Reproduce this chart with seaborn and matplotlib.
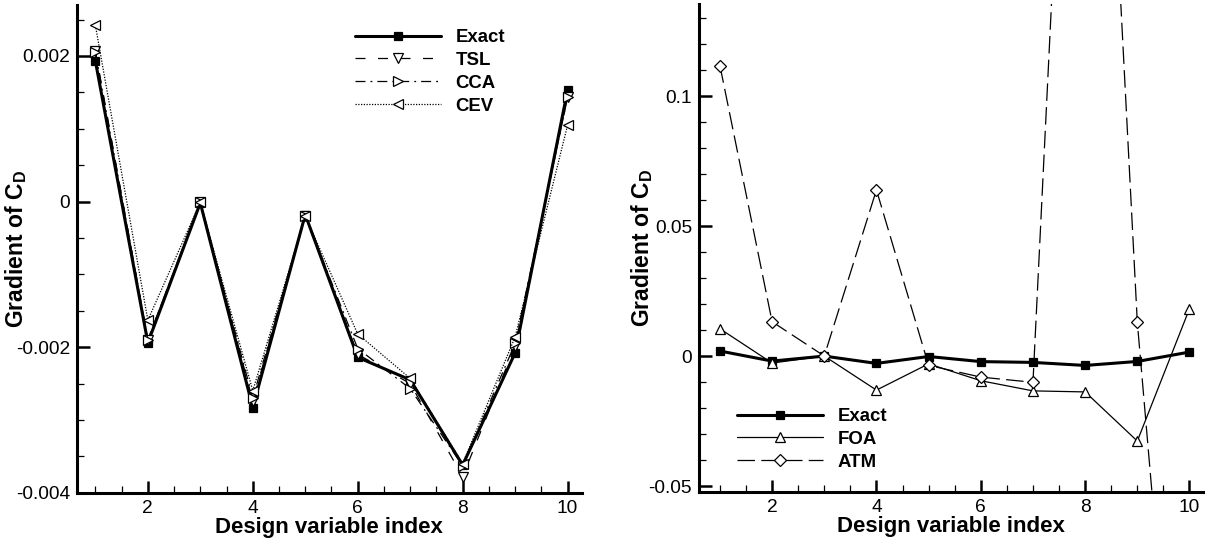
import matplotlib
matplotlib.use("Agg")
import matplotlib.pyplot as plt
from matplotlib.ticker import FixedLocator, MultipleLocator, FuncFormatter
import seaborn as sns

# Datos
design_idx = [1, 2, 3, 4, 5, 6, 7, 8, 9, 10]

exact = [0.00193, -0.00194, -0.00002, -0.00283, -0.00018, -0.00214, -0.00245, -0.00362, -0.00208, 0.00153]
tsl = [0.00207, -0.00190, -0.00001, -0.00274, -0.00020, -0.00210, -0.00250, -0.00378, -0.00198, 0.00143]
cca = [0.00205, -0.00190, -0.00001, -0.00270, -0.00020, -0.00202, -0.00257, -0.00363, -0.00195, 0.00143]
cev = [0.00242, -0.00163, -0.00001, -0.00260, -0.00020, -0.00182, -0.00243, -0.00360, -0.00186, 0.00105]

foa = [0.0105, -0.0027, 0.0000, -0.0131, -0.0030, -0.0095, -0.0134, -0.0138, -0.0327, 0.0182]
atm = [0.1117, 0.0132, 0.0000, 0.0639, -0.0036, -0.0081, -0.0101, 0.400, 0.0130, -0.220]

left_yticks = [-0.004, -0.002, 0, 0.002]
right_yticks = [-0.05, 0, 0.05, 0.1]
xticks = [2, 4, 6, 8, 10]

sns.set_theme(style="ticks")
plt.rcParams["font.family"] = ["Liberation Sans", "DejaVu Sans"]
plt.rcParams["axes.unicode_minus"] = False
plt.rcParams["mathtext.fontset"] = "custom"
plt.rcParams["mathtext.bf"] = "Liberation Sans:bold"
plt.rcParams["mathtext.rm"] = "Liberation Sans"
for k in ["text.color", "axes.labelcolor", "xtick.color", "ytick.color", "axes.edgecolor"]:
    plt.rcParams[k] = "black"

fig = plt.figure(figsize=(12.13, 5.45), dpi=100)
ax1 = fig.add_axes([0.0635, 0.096, 0.4161, 0.8948])
ax2 = fig.add_axes([0.5763, 0.0972, 0.4155, 0.8955])


def draw(ax, y, label, lw, ls, marker, ms, filled):
    sns.lineplot(x=design_idx, y=y, ax=ax, label=label, color="black",
                 linewidth=lw, linestyle=ls, marker=marker, markersize=ms,
                 markerfacecolor="black" if filled else "white",
                 markeredgecolor="black", markeredgewidth=0.9)


# Panel izquierdo
draw(ax1, exact, "Exact", 2.2, "-", "s", 6, True)
draw(ax1, tsl, "TSL", 0.9, (0, (8, 10)), "v", 7, False)
draw(ax1, cca, "CCA", 0.9, (0, (8, 4, 1.5, 4)), ">", 7, False)
draw(ax1, cev, "CEV", 0.9, (0, (1, 1.2)), "<", 7, False)

# Panel derecho
draw(ax2, exact, "Exact", 2.2, "-", "s", 6, True)
draw(ax2, foa, "FOA", 0.9, "-", "^", 7, False)
draw(ax2, atm, "ATM", 0.9, (0, (14, 5)), "D", 6, False)

ax1.set_xlim(0.65, 10.27)
ax1.set_ylim(-0.004, 0.0027)
ax2.set_xlim(0.6, 10.26)
ax2.set_ylim(-0.0523, 0.1354)

for ax, yt, ymin, labx in [(ax1, left_yticks, 0.0005, -0.095), (ax2, right_yticks, 0.01, -0.088)]:
    ax.xaxis.set_major_locator(FixedLocator(xticks))
    ax.xaxis.set_minor_locator(MultipleLocator(0.5))
    ax.yaxis.set_major_locator(FixedLocator(yt))
    ax.yaxis.set_minor_locator(MultipleLocator(ymin))
    ax.yaxis.set_major_formatter(FuncFormatter(lambda v, _: f"{v:g}"))
    ax.tick_params(which="major", direction="in", length=9, width=1.8,
                   labelsize=13.8, pad=5)
    ax.tick_params(which="minor", direction="in", length=5, width=0.9)
    for s in ["top", "right"]:
        ax.spines[s].set_visible(False)
    for s in ["left", "bottom"]:
        ax.spines[s].set_linewidth(2.2)
    ax.set_xlabel("Design variable index", fontsize=16, fontweight="bold", labelpad=0)
    ax.set_ylabel(r"Gradient of $\mathbf{C_D}$", fontsize=16.5, fontweight="bold")
    ax.yaxis.set_label_coords(labx, 0.5)

leg_kw = dict(frameon=False, borderpad=0, borderaxespad=0, handlelength=4.6,
              handletextpad=0.8, labelspacing=0.32,
              prop={"weight": "bold", "size": 13.4})
ax1.legend(loc="upper left", bbox_to_anchor=(355 / 1213, 1 - 29 / 545),
           bbox_transform=fig.transFigure, **leg_kw)
ax2.legend(loc="upper left", bbox_to_anchor=(737 / 1213, 1 - 408 / 545),
           bbox_transform=fig.transFigure, **leg_kw)

fig.savefig("out.png", dpi=100)
